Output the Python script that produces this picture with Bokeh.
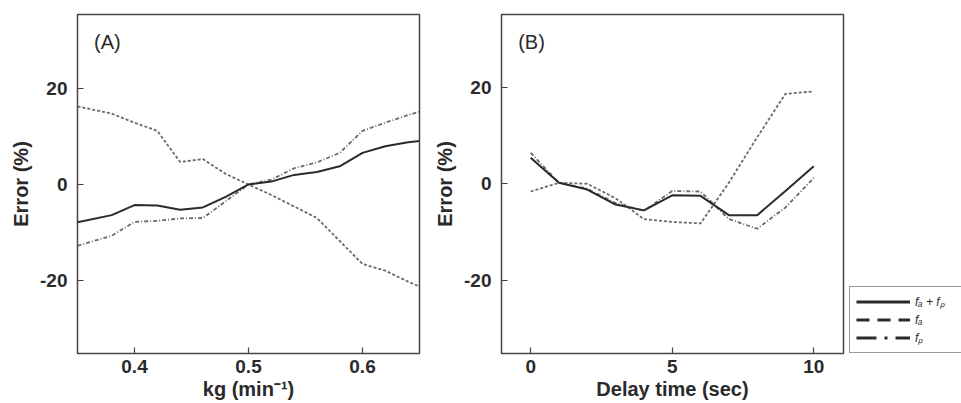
from bokeh.plotting import figure
from bokeh.models import Range1d, FixedTicker, Label, Legend, LegendItem
from bokeh.layouts import row
from bokeh.embed import file_html
from bokeh.resources import INLINE

# ---- Panel A data ----
kg = [0.35, 0.38, 0.40, 0.42, 0.44, 0.46, 0.48, 0.50, 0.52, 0.54, 0.56, 0.58, 0.60, 0.62, 0.64, 0.65]
a_fa_fp = [-7.9, -6.4, -4.3, -4.4, -5.3, -4.8, -2.6, 0.0, 0.6, 2.0, 2.6, 3.8, 6.6, 8.0, 8.8, 9.1]
a_fa = [16.3, 14.8, 12.9, 11.2, 4.7, 5.3, 2.2, 0.0, -2.2, -4.6, -7.0, -11.8, -16.6, -18.0, -20.3, -21.3]
a_fp = [-12.8, -10.7, -7.8, -7.6, -7.1, -7.0, -3.5, 0.0, 1.0, 3.4, 4.6, 6.6, 11.2, 12.9, 14.5, 15.2]

# ---- Panel B data ----
delay = [0, 1, 2, 3, 4, 5, 6, 7, 8, 9, 10]
b_fa_fp = [5.4, 0.2, -1.2, -4.3, -5.5, -2.4, -2.5, -6.5, -6.5, -1.5, 3.6]
b_fa = [-1.6, 0.2, 0.0, -3.0, -7.3, -7.9, -8.2, 0.2, 9.6, 18.6, 19.1]
b_fp = [6.4, 0.2, -1.0, -4.0, -5.6, -1.5, -1.6, -7.3, -9.3, -4.9, 1.2]

y_ticks = [-20, 0, 20]
a_xticks = [0.4, 0.5, 0.6]
b_xticks = [0, 5, 10]
legend_labels = ["f\u2090 + f\u209a", "f\u2090", "f\u209a"]

FONT = "Liberation Sans"
DARK = "#2a2a2a"
GRAY = "#6a6a6a"


def style(p, xticks):
    p.xaxis.ticker = FixedTicker(ticks=xticks)
    p.yaxis.ticker = FixedTicker(ticks=y_ticks)
    p.xgrid.grid_line_color = None
    p.ygrid.grid_line_color = None
    p.outline_line_color = "#444444"
    p.outline_line_width = 1.5
    p.background_fill_color = "white"
    p.border_fill_color = "white"
    for ax in (p.xaxis, p.yaxis):
        ax.axis_line_color = None
        ax.major_tick_in = 6
        ax.major_tick_out = 0
        ax.major_tick_line_color = "#444444"
        ax.major_tick_line_width = 1.2
        ax.minor_tick_line_color = None
        ax.major_label_text_font = FONT
        ax.major_label_text_font_style = "bold"
        ax.major_label_text_font_size = "19px"
        ax.major_label_text_color = DARK
        ax.major_label_text_line_height = 1.0
        ax.axis_label_text_font = FONT
        ax.axis_label_text_font_style = "bold"
        ax.axis_label_text_font_size = "20px"
        ax.axis_label_text_color = DARK
        ax.axis_label_text_line_height = 1.0
    p.xaxis.major_label_standoff = 6
    p.xaxis.axis_label_standoff = 2
    p.yaxis.major_label_standoff = 10
    p.yaxis.axis_label_standoff = 5
    p.yaxis.major_label_overrides = {-20: "-20", 0: "0", 20: "20"}


# ---- Figure A ----
pA = figure(width=430, height=403, output_backend="svg", toolbar_location=None,
            x_range=Range1d(0.35, 0.65), y_range=Range1d(-35.3, 35.5),
            min_border_left=77, min_border_right=11, min_border_top=14, min_border_bottom=47,
            x_axis_label="kg (min\u207b\u00b9)", y_axis_label="Error (%)")
style(pA, a_xticks)
pA.line(kg, a_fa, line_color=GRAY, line_width=1.8, line_dash="3 2")
pA.line(kg, a_fp, line_color=GRAY, line_width=1.8, line_dash="4 2 1 2")
pA.line(kg, a_fa_fp, line_color=DARK, line_width=2)
pA.add_layout(Label(x=0.3645, y=27.4, text="(A)", text_font=FONT, text_font_size="20px",
                    text_color=DARK))

# ---- Figure B ----
pB = figure(width=419, height=403, output_backend="svg", toolbar_location=None,
            x_range=Range1d(-1.03, 11.05), y_range=Range1d(-35.1, 35.0),
            min_border_left=71, min_border_right=6, min_border_top=13, min_border_bottom=50,
            x_axis_label="Delay time (sec)", y_axis_label="Error (%)")
style(pB, b_xticks)
pB.line(delay, b_fa, line_color=GRAY, line_width=1.8, line_dash="3 2")
pB.line(delay, b_fp, line_color=GRAY, line_width=1.8, line_dash="4 2 1 2")
pB.line(delay, b_fa_fp, line_color=DARK, line_width=2)
pB.add_layout(Label(x=-0.44, y=27.0, text="(B)", text_font=FONT, text_font_size="20px",
                    text_color=DARK))

# ---- Legend panel (separate small figure; its lines lie outside its view) ----
pL = figure(width=112, height=403, output_backend="svg", toolbar_location=None,
            x_range=Range1d(100, 101), y_range=Range1d(100, 101),
            x_axis_location=None, y_axis_location=None,
            min_border_left=0, min_border_right=0, min_border_top=0, min_border_bottom=50)
pL.outline_line_color = None
pL.xgrid.grid_line_color = None
pL.ygrid.grid_line_color = None
pL.background_fill_color = "white"
pL.border_fill_color = "white"
lg1 = pL.line(delay, b_fa_fp, line_color=DARK, line_width=2.8)
lg2 = pL.line(delay, b_fa, line_color=DARK, line_width=2.8, line_dash="13 8")
lg3 = pL.line(delay, b_fp, line_color=DARK, line_width=2.8, line_dash="20 8 3 8")
legend = Legend(items=[LegendItem(label=legend_labels[0], renderers=[lg1]),
                       LegendItem(label=legend_labels[1], renderers=[lg2]),
                       LegendItem(label=legend_labels[2], renderers=[lg3])],
                location=(0, 0), margin=0, padding=6, spacing=2,
                glyph_width=54, glyph_height=15, label_height=15, label_width=48,
                label_standoff=5,
                label_text_font=FONT, label_text_font_style="italic",
                label_text_font_size="12px", label_text_color=DARK,
                border_line_color="#333333", border_line_width=1.5,
                background_fill_color="white", background_fill_alpha=1.0)
pL.add_layout(legend, "center")

layout = row(pA, pB, pL)
open("out.html", "w").write(file_html(layout, INLINE))
